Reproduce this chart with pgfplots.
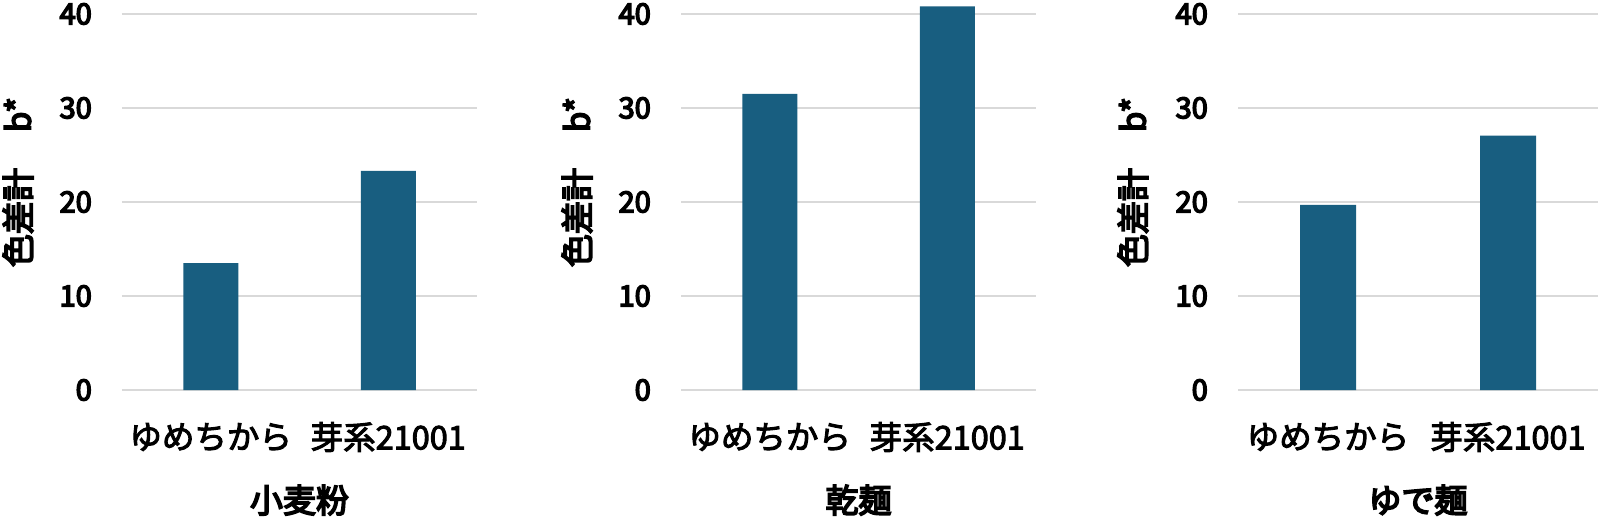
\documentclass[border=0pt]{standalone}
\usepackage{fontspec}
\setmainfont{Noto Sans CJK JP}
\newfontfamily\catfont{Noto Sans CJK JP}[FakeBold=3]
\newfontfamily\medfont{Noto Sans CJK JP}[FakeBold=5]
\usepackage{pgfplots}
\pgfplotsset{compat=1.18}
\definecolor{barc}{RGB}{24,94,128}
\definecolor{gridc}{RGB}{217,217,217}
\pgfplotsset{panel/.style={
  scale only axis, width=355pt, height=389.2pt, anchor=south west,
  ymin=0, ymax=41.4, xmin=-0.5, xmax=1.5,
  ytick={0,10,20,30,40}, xtick={0,1}, xticklabels={ゆめちから,芽系21001},
  axis line style={draw=none}, major tick length=0pt,
  ymajorgrids, grid style={gridc, line width=2pt},
  /pgf/number format/assume math mode=true,
  yticklabel style={font=\fontsize{29}{31}\selectfont\medfont, anchor=east, inner sep=0pt, xshift=-30pt},
  xticklabel style={font=\fontsize{32.5}{34}\selectfont\catfont, anchor=center, inner sep=0pt, yshift=-47pt},
  ybar, bar width=55pt, bar shift=0pt,
  clip=false,
  ylabel={色差計\hspace{36pt}b*},
  ylabel style={font=\fontsize{33}{35}\selectfont\medfont, at={(axis description cs:-0.293,0.534)}, anchor=center, inner sep=0pt},
  xlabel style={font=\fontsize{33}{35}\selectfont\medfont, at={(axis description cs:0.5,-0.283)}, anchor=center, inner sep=0pt},
}}
\begin{document}
\begin{tikzpicture}[x=1pt,y=1pt]
\useasboundingbox (0,0) rectangle (1600,520);
\begin{axis}[panel, at={(122pt,130pt)}, xlabel={小麦粉}]
\addplot[fill=barc, draw=none] coordinates {(0,13.5) (1,23.3)};
\end{axis}
\begin{axis}[panel, at={(681pt,130pt)}, xlabel={乾麺}]
\addplot[fill=barc, draw=none] coordinates {(0,31.5) (1,40.8)};
\end{axis}
\begin{axis}[panel, at={(1238pt,130pt)}, width=360pt, bar width=56pt, xlabel={ゆで麺},
  ylabel style={at={(axis description cs:-0.292,0.534)}}]
\addplot[fill=barc, draw=none] coordinates {(0,19.7) (1,27.05)};
\end{axis}
\end{tikzpicture}
\end{document}
